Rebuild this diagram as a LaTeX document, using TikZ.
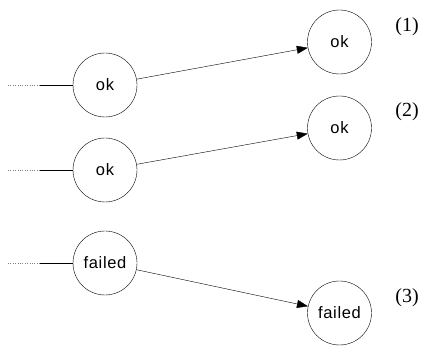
\documentclass[tikz,border=0pt]{standalone}
\usepackage{fontspec}
\setmainfont{Liberation Serif}
\newfontfamily\nodefont[LetterSpace=4]{Liberation Sans}
\usetikzlibrary{arrows.meta}
\begin{document}
\begin{tikzpicture}[x=1pt,y=-1pt,
  state/.style={draw,circle,minimum size=64pt,inner sep=0pt,font=\nodefont\fontsize{16.5}{19}\selectfont},
  tag/.style={font=\fontsize{20}{22}\selectfont},
  flow/.style={-{Triangle[length=11pt,width=8pt]}},
  stub/.style={gray,dotted,thin}]
\useasboundingbox (0,0) rectangle (426,347);
\node[state] (a1) at (105,85) {ok};
\node[state] (b1) at (339.5,42) {ok};
\node[state] (a2) at (105,170) {ok};
\node[state] (b2) at (339.5,128) {ok};
\node[state] (a3) at (105,263) {failed};
\node[state] (b3) at (339.5,313) {failed};
\node[tag] (t1) at (407,27) {(1)};
\node[tag] (t2) at (407,112) {(2)};
\node[tag] (t3) at (407,298) {(3)};
\foreach \i/\y in {1/85,2/170,3/263}{
  \coordinate (s\i) at (8,\y);
  \coordinate (m\i) at (40,\y);
  \draw[stub] (s\i) -- (m\i);
  \draw (m\i) -- (a\i);
  \draw[flow] (a\i) -- (b\i);
}
\end{tikzpicture}
\end{document}
